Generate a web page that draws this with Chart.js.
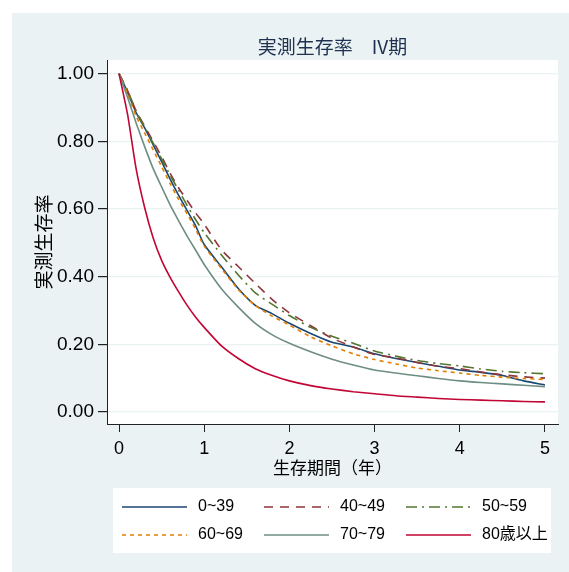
<!DOCTYPE html>
<html>
<head>
<meta charset="utf-8">
<script src="https://cdn.jsdelivr.net/npm/chart.js@4.4.1/dist/chart.umd.min.js"></script>
<style>
  html, body { margin: 0; padding: 0; background: #fff; }
  canvas { display: block; }
</style>
</head>
<body>
<canvas id="survChart" width="569" height="572"></canvas>
<script>
// follow-up years
const years = [0, 0.1, 0.2, 0.3, 0.4, 0.5, 0.6, 0.7, 0.8, 0.9, 1.0, 1.2, 1.4, 1.6, 1.8, 2.0,
  2.25, 2.5, 2.75, 3.0, 3.25, 3.5, 3.75, 4.0, 4.25, 4.5, 4.75, 5.0];

// observed survival per age group
const age0to39 = [1, 0.945, 0.885, 0.84, 0.79, 0.74, 0.688, 0.64, 0.595, 0.55, 0.495, 0.43, 0.365, 0.315, 0.29, 0.262,
  0.232, 0.206, 0.192, 0.172, 0.158, 0.146, 0.135, 0.124, 0.117, 0.108, 0.092, 0.08];
const age40to49 = [1, 0.95, 0.89, 0.845, 0.80, 0.755, 0.705, 0.662, 0.625, 0.588, 0.555, 0.48, 0.43, 0.38, 0.332, 0.293,
  0.255, 0.218, 0.192, 0.17, 0.16, 0.146, 0.135, 0.128, 0.118, 0.11, 0.104, 0.10];
const age50to59 = [1, 0.95, 0.89, 0.84, 0.795, 0.748, 0.70, 0.655, 0.61, 0.568, 0.53, 0.465, 0.405, 0.352, 0.318, 0.285,
  0.25, 0.224, 0.203, 0.18, 0.165, 0.152, 0.143, 0.136, 0.127, 0.12, 0.116, 0.113];
const age60to69 = [1, 0.94, 0.875, 0.825, 0.775, 0.725, 0.675, 0.628, 0.585, 0.54, 0.49, 0.425, 0.362, 0.315, 0.283, 0.257,
  0.222, 0.195, 0.172, 0.155, 0.142, 0.13, 0.122, 0.115, 0.108, 0.103, 0.099, 0.096];
const age70to79 = [1, 0.93, 0.855, 0.785, 0.72, 0.665, 0.612, 0.565, 0.52, 0.478, 0.436, 0.365, 0.31, 0.262, 0.228, 0.203,
  0.178, 0.156, 0.139, 0.124, 0.115, 0.107, 0.099, 0.092, 0.087, 0.083, 0.079, 0.075];
const age80plus = [1, 0.88, 0.72, 0.605, 0.515, 0.448, 0.398, 0.355, 0.315, 0.28, 0.25, 0.196, 0.158, 0.128, 0.108, 0.092,
  0.078, 0.068, 0.06, 0.054, 0.048, 0.044, 0.04, 0.037, 0.035, 0.033, 0.031, 0.03];

const groupLabels = ['0~39', '40~49', '50~59', '60~69', '70~79', '80歳以上'];
const xTicks = [0, 1, 2, 3, 4, 5];
const yTicks = [0, 0.2, 0.4, 0.6, 0.8, 1.0];

const latinFont = "'Liberation Sans', Arial, 'Noto Sans CJK JP', sans-serif";
const cjkFont = "'Noto Sans CJK JP', 'Liberation Sans', sans-serif";

const seriesValues = [age0to39, age40to49, age50to59, age60to69, age70to79, age80plus];
const styles = [
  { color: '#1A476F', dash: [] },
  { color: '#90353B', dash: [9, 7] },
  { color: '#55752F', dash: [11, 5, 2, 5] },
  { color: '#E37E00', dash: [4, 4] },
  { color: '#6E8E84', dash: [] },
  { color: '#C10534', dash: [] }
];

const datasets = seriesValues.map((vals, i) => ({
  label: groupLabels[i],
  data: years.map((t, j) => ({ x: t, y: vals[j] })),
  borderColor: styles[i].color,
  borderDash: styles[i].dash,
  borderWidth: 1.6,
  pointRadius: 0,
  tension: 0.2,
  fill: false,
  order: seriesValues.length - i   // later groups on top, like stata
}));

// frame, titles and legend drawn around the plot
const stataFrame = {
  id: 'stataFrame',
  beforeDraw(chart) {
    const ctx = chart.ctx;
    const a = chart.chartArea;
    ctx.save();
    ctx.fillStyle = '#ffffff';
    ctx.fillRect(0, 0, chart.width, chart.height);
    ctx.fillStyle = '#EAF2F3';
    ctx.fillRect(12, 13, chart.width - 12, chart.height - 13);
    ctx.fillStyle = '#ffffff';
    ctx.fillRect(a.left, a.top, a.right - a.left, a.bottom - a.top);
    ctx.restore();
  },
  afterDraw(chart) {
    const ctx = chart.ctx;
    const a = chart.chartArea;
    const midX = (a.left + a.right) / 2;
    ctx.save();
    ctx.textAlign = 'center';
    ctx.textBaseline = 'middle';

    ctx.fillStyle = '#1E3150';
    ctx.font = '19px ' + cjkFont;
    ctx.fillText('実測生存率\u3000IV期', midX, 47);

    ctx.fillStyle = '#000';
    ctx.font = '17px ' + cjkFont;
    ctx.fillText('生存期間（年）', midX, 468);

    ctx.save();
    ctx.translate(44, (a.top + a.bottom) / 2);
    ctx.rotate(-Math.PI / 2);
    ctx.font = '19px ' + cjkFont;
    ctx.fillText('実測生存率', 0, 0);
    ctx.restore();

    // legend
    ctx.fillStyle = '#ffffff';
    ctx.fillRect(113, 488, 438, 65);
    const colX = [122, 264, 406];
    const rowY = [507, 535];
    ctx.textAlign = 'left';
    ctx.font = '16px ' + latinFont;
    chart.data.datasets.forEach((ds, i) => {
      const x = colX[i % 3];
      const y = rowY[Math.floor(i / 3)];
      ctx.beginPath();
      ctx.setLineDash(ds.borderDash);
      ctx.strokeStyle = ds.borderColor;
      ctx.lineWidth = 1.6;
      ctx.moveTo(x, y);
      ctx.lineTo(x + 65, y);
      ctx.stroke();
      ctx.setLineDash([]);
      ctx.fillStyle = '#000';
      ctx.fillText(ds.label, x + 76, y);
    });
    ctx.restore();
  }
};

new Chart(document.getElementById('survChart'), {
  type: 'line',
  data: { datasets: datasets },
  options: {
    responsive: false,
    animation: false,
    devicePixelRatio: 1,
    layout: { padding: { top: 60, right: 11, left: 0, bottom: 0 } },
    plugins: {
      legend: { display: false },
      title: { display: false },
      tooltip: { enabled: false }
    },
    scales: {
      x: {
        type: 'linear',
        min: -0.141,
        max: 5.153,
        afterBuildTicks: s => { s.ticks = xTicks.map(v => ({ value: v })); },
        afterFit: s => { s.height = 148; },
        ticks: {
          callback: v => String(v),
          color: '#000',
          font: { family: latinFont, size: 18 },
          padding: 6,
          maxRotation: 0,
          autoSkip: false
        },
        grid: { drawOnChartArea: false, drawTicks: true, tickLength: 8, tickColor: '#222', lineWidth: 1 },
        border: { display: true, color: '#222', width: 1 }
      },
      y: {
        type: 'linear',
        min: -0.0355,
        max: 1.0402,
        afterBuildTicks: s => { s.ticks = yTicks.map(v => ({ value: v })); },
        afterFit: s => { s.width = 107; },
        ticks: {
          callback: v => v.toFixed(2),
          color: '#000',
          font: { family: latinFont, size: 19 },
          padding: 4,
          autoSkip: false
        },
        grid: { color: '#EAF2F3', lineWidth: 1.2, tickLength: 9, tickColor: '#222' },
        border: { display: true, color: '#222', width: 1 }
      }
    }
  },
  plugins: [stataFrame]
});
</script>
</body>
</html>
